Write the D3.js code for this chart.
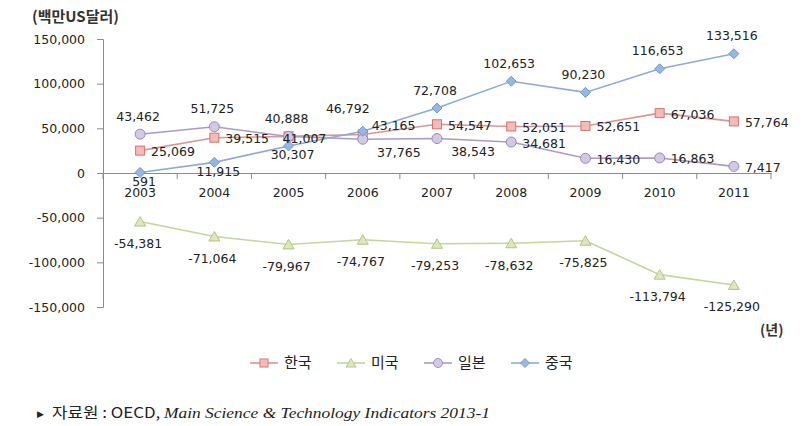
<!DOCTYPE html>
<html>
<head>
<meta charset="utf-8">
<script src="https://cdn.jsdelivr.net/npm/d3@7"></script>
<style>
  html, body { margin: 0; padding: 0; background: #fff; }
  svg { display: block; }
</style>
</head>
<body>
<svg id="chart" width="805" height="426"></svg>
<script>
// ---- data ----
const years = ["2003","2004","2005","2006","2007","2008","2009","2010","2011"];
const seriesNames = ["한국","미국","일본","중국"];
const korea = [25069, 39515, 41007, 43165, 54547, 52051, 52651, 67036, 57764];
const usa   = [-54381, -71064, -79967, -74767, -79253, -78632, -75825, -113794, -125290];
const japan = [43462, 51725, 40888, 37765, 38543, 34681, 16430, 16863, 7417];
const china = [591, 11915, 30307, 46792, 72708, 102653, 90230, 116653, 133516];
const yTicks = [150000, 100000, 50000, 0, -50000, -100000, -150000];
const yUnit = "(백만US달러)";
const xUnit = "(년)";
const sourceMark = "▶";
const sourceLead = "자료원 : OECD, ";
const sourceTitle = "Main Science & Technology Indicators 2013-1";

// label placement codes per series
const koreaLab = ["R","R","C","RU","R","R","R","R","R"];
const usaLab   = ["B","B","B","B","B","B","B","B","B"];
const japanLab = ["A","A","A","BR","BR","R","R","R","R"];
const chinaLab = ["b","b","b","AL","A","A","A","A","A"];

// ---- styles ----
const styles = [
  {line:"#d99694", fill:"#f4bcb9", stroke:"#d6726e", shape:"square"},
  {line:"#c3d69b", fill:"#dbe7c0", stroke:"#b2c67c", shape:"triangle"},
  {line:"#a99bc6", fill:"#d3c9e2", stroke:"#9a87bb", shape:"circle"},
  {line:"#8eabd4", fill:"#95b7e3", stroke:"#6f97cb", shape:"diamond"}
];
const labOff = {
  R:  {anchor:"start",  dx:11, dy:1},
  C:  {anchor:"start",  dx:-6, dy:2},
  RU: {anchor:"start",  dx:9,  dy:-9},
  A:  {anchor:"middle", dx:-2, dy:-18},
  AL: {anchor:"middle", dx:-15,dy:-23},
  B:  {anchor:"middle", dx:-2, dy:22},
  b:  {anchor:"middle", dx:4,  dy:9},
  BR: {anchor:"middle", dx:36, dy:13}
};

const numFont = "'DejaVu Sans', sans-serif";
const krFont = "'Noto Sans CJK KR', 'Noto Sans', sans-serif";
const txt = "#222";
const axisCol = "#8a8a8a";

const svg = d3.select("#chart");
const x = d3.scaleBand().domain(years).range([103, 771]).padding(0);
const y = d3.scaleLinear().domain([-150000, 150000]).range([307, 39]);
const fmt = d3.formatLocale({decimal: ".", thousands: ",", grouping: [3], currency: ["", ""], minus: "-"}).format(",");

// y axis
const yAxis = svg.append("g").attr("transform", "translate(103,0)")
  .call(d3.axisLeft(y).tickValues(yTicks).tickFormat(fmt).tickSize(6).tickPadding(12));
yAxis.select(".domain").attr("stroke", axisCol);
yAxis.selectAll(".tick line").attr("stroke", axisCol);
yAxis.selectAll(".tick text").attr("font-family", numFont).attr("font-size", 12.5).attr("fill", txt);

// x axis (labels centered in bands, ticks at band boundaries)
const xAxis = svg.append("g").attr("transform", `translate(0,${y(0)})`)
  .call(d3.axisBottom(x).tickSize(0).tickPadding(15));
xAxis.select(".domain").attr("stroke", axisCol);
xAxis.selectAll(".tick text").attr("font-family", numFont).attr("font-size", 12.5).attr("fill", txt);
const bounds = years.map(d => x(d)).concat([x.range()[1]]);
svg.append("g").selectAll("line").data(bounds).join("line")
  .attr("x1", d => d).attr("x2", d => d)
  .attr("y1", y(0)).attr("y2", y(0) + 6)
  .attr("stroke", axisCol);

// unit labels
svg.append("text").attr("x", 32).attr("y", 22).text(yUnit)
  .attr("font-family", krFont).attr("font-size", 15).attr("font-weight", "bold").attr("fill", "#333");
svg.append("text").attr("x", 760).attr("y", 335).text(xUnit)
  .attr("font-family", krFont).attr("font-size", 14).attr("font-weight", "bold").attr("fill", "#333");

function marker(g, shape, st) {
  if (shape === "square") {
    g.append("rect").attr("x", -4.5).attr("y", -4.5).attr("width", 9).attr("height", 9)
      .attr("fill", st.fill).attr("stroke", st.stroke).attr("stroke-width", 1);
  } else if (shape === "triangle") {
    g.append("path").attr("d", "M0,-5L5.5,4.5L-5.5,4.5Z")
      .attr("fill", st.fill).attr("stroke", st.stroke).attr("stroke-width", 1);
  } else if (shape === "circle") {
    g.append("circle").attr("r", 5)
      .attr("fill", st.fill).attr("stroke", st.stroke).attr("stroke-width", 1);
  } else {
    g.append("path").attr("d", "M0,-5L5,0L0,5L-5,0Z")
      .attr("fill", st.fill).attr("stroke", st.stroke).attr("stroke-width", 1);
  }
}

const allSeries = [korea, usa, japan, china];
const allLabs = [koreaLab, usaLab, japanLab, chinaLab];
const cx = d => x(d) + x.bandwidth() / 2;
const line = d3.line().x((v, i) => cx(years[i])).y(v => y(v));

// lines
allSeries.forEach((vals, si) => {
  svg.append("path").datum(vals).attr("d", line)
    .attr("fill", "none").attr("stroke", styles[si].line).attr("stroke-width", 1.6);
});
// markers
allSeries.forEach((vals, si) => {
  vals.forEach((v, i) => {
    const g = svg.append("g").attr("transform", `translate(${cx(years[i])},${y(v)})`);
    marker(g, styles[si].shape, styles[si]);
  });
});
// data labels
allSeries.forEach((vals, si) => {
  vals.forEach((v, i) => {
    const o = labOff[allLabs[si][i]];
    svg.append("text")
      .attr("x", cx(years[i]) + o.dx).attr("y", y(v) + o.dy)
      .attr("dy", "0.36em").attr("text-anchor", o.anchor)
      .attr("font-family", numFont).attr("font-size", 12.5).attr("fill", txt)
      .text(fmt(v));
  });
});

// legend
const legend = svg.append("g");
seriesNames.forEach((n, si) => {
  const lx = 250 + si * 87;
  const gy = 363;
  legend.append("line").attr("x1", lx).attr("x2", lx + 28).attr("y1", gy).attr("y2", gy)
    .attr("stroke", styles[si].line).attr("stroke-width", 1.6);
  const g = legend.append("g").attr("transform", `translate(${lx + 14},${gy}) scale(0.9)`);
  marker(g, styles[si].shape, styles[si]);
  legend.append("text").attr("x", lx + 34).attr("y", gy).attr("dy", "0.36em")
    .attr("font-family", krFont).attr("font-size", 15).attr("fill", txt).text(n);
});

// source
svg.append("text").attr("x", 37).attr("y", 417)
  .attr("font-family", "'DejaVu Sans', sans-serif").attr("font-size", 9).attr("fill", "#222")
  .text(sourceMark);
const src = svg.append("text").attr("x", 52).attr("y", 418)
  .attr("textLength", 438).attr("lengthAdjust", "spacingAndGlyphs")
  .attr("font-family", "'Liberation Serif', 'Noto Sans CJK KR', serif").attr("font-size", 15).attr("fill", "#222");
src.append("tspan").attr("font-family", krFont).attr("font-size", 14.5).text(sourceLead);
src.append("tspan").attr("font-style", "italic").text(sourceTitle);
</script>
</body>
</html>
